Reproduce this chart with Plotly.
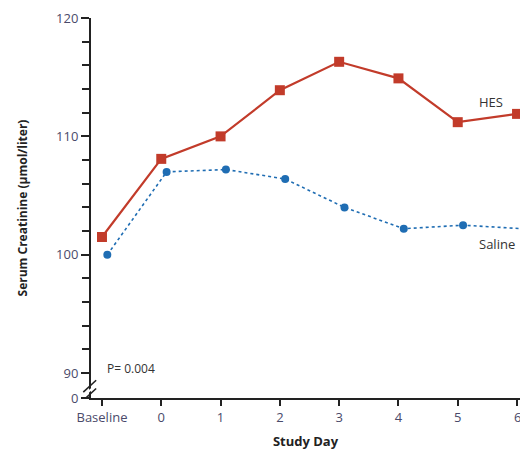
import plotly.graph_objects as go

# Study days (Baseline plotted at -1, days 0..6)
day_labels = ["Baseline", "0", "1", "2", "3", "4", "5", "6"]
day_pos = [-1, 0, 1, 2, 3, 4, 5, 6]

# Serum creatinine, µmol/liter
hes = [101.5, 108.1, 110.0, 113.9, 116.3, 114.9, 111.2, 111.9]
saline = [100.0, 107.0, 107.2, 106.4, 104.0, 102.2, 102.5, 102.2]

# Y axis: break between 0 and 90
y_bottom = 87.9
y_major = [y_bottom, 90, 100, 110, 120]
y_major_text = ["0", "90", "100", "110", "120"]
y_minor = [92, 94, 96, 98, 102, 104, 106, 108, 112, 114, 116, 118]

RED = "#c23b2a"
BLUE = "#1f6db3"
FONT = "Open Sans"
TICK_FONT = dict(family=FONT, size=13, color="#4a4a6a")

sal_shift = 0.09
fig = go.Figure()
fig.add_trace(go.Scatter(
    x=day_pos, y=hes, mode="lines+markers",
    line=dict(color=RED, width=2.2),
    marker=dict(symbol="square", size=10, color=RED),
    cliponaxis=False, showlegend=False))
fig.add_trace(go.Scatter(
    x=[d + sal_shift for d in day_pos], y=saline, mode="lines+markers",
    line=dict(color=BLUE, width=1.6, dash="dot"),
    marker=dict(symbol="circle", size=8, color=BLUE),
    cliponaxis=False, showlegend=False))

axis_common = dict(showgrid=False, zeroline=False, showline=True,
                   linecolor="#222", linewidth=2, ticks="outside",
                   tickcolor="#222", tickwidth=2, tickfont=TICK_FONT)

fig.update_xaxes(range=[-1.185, 6.05], tickmode="array", tickvals=day_pos,
                 ticktext=day_labels, ticklen=6,
                 title=dict(text="<b>Study Day</b>", standoff=12,
                            font=dict(family=FONT, size=13, color="#222")),
                 **axis_common)
fig.update_yaxes(range=[y_bottom, 120], tickmode="array", tickvals=y_major,
                 ticktext=y_major_text, ticklen=8,
                 minor=dict(tickvals=y_minor, ticks="outside", ticklen=7,
                            tickcolor="#222", tickwidth=2),
                 title=dict(text="<b>Serum Creatinine (µmol/liter)</b>", standoff=26,
                            font=dict(family=FONT, size=12, color="#222")),
                 **axis_common)

# last day label sits on the right edge, where the axis would drop it
fig.add_annotation(x=day_pos[-1], xref="x", y=0, yref="paper", yanchor="top",
                   yshift=-8, text=day_labels[-1], showarrow=False, font=TICK_FONT)

# axis break marks
for dy in (-0.35, 0.35):
    fig.add_shape(type="line", xref="x domain", yref="y",
                  x0=-0.018, x1=0.012, y0=88.55 + dy - 0.5, y1=88.55 + dy + 0.5,
                  line=dict(color="#222", width=1.6))
fig.add_shape(type="line", xref="x domain", yref="y",
              x0=-0.01, x1=0.006, y0=88.3, y1=88.8,
              line=dict(color="white", width=2))

fig.add_annotation(x=5.56, y=112.9, text="HES", showarrow=False,
                   font=dict(family=FONT, size=13, color="#333"))
fig.add_annotation(x=5.66, y=100.9, text="Saline", showarrow=False,
                   font=dict(family=FONT, size=13, color="#333"))
fig.add_annotation(x=-0.95, y=90.43, text="P= 0.004", showarrow=False, xanchor="left",
                   font=dict(family=FONT, size=12, color="#333"))

fig.update_layout(width=520, height=458, margin=dict(l=91, r=0, t=18, b=60),
                  plot_bgcolor="white", paper_bgcolor="white")

fig.write_html("out.html")
